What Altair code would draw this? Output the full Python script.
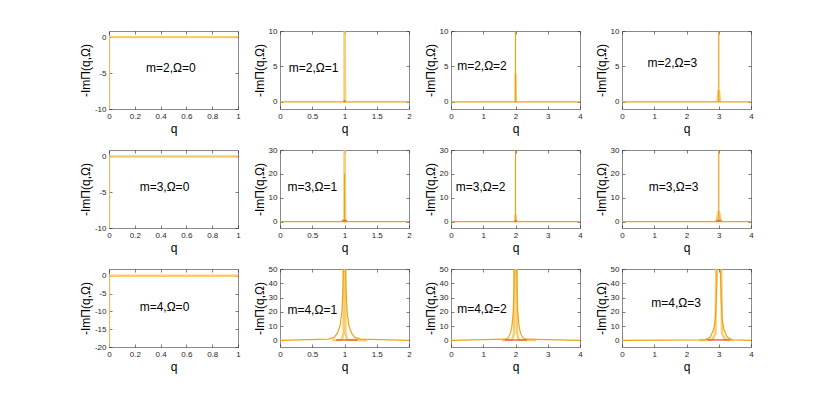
import altair as alt
import pandas as pd

# ---------------- data ----------------
M_VALUES = [2, 3, 4]
OMEGAS = [0, 1, 2, 3]
Q_MAX = {0: 1, 1: 2, 2: 4, 3: 4}
X_TICKS = {0: [0, 0.2, 0.4, 0.6, 0.8, 1], 1: [0, 0.5, 1, 1.5, 2],
           2: [0, 1, 2, 3, 4], 3: [0, 1, 2, 3, 4]}

# y ranges (static) and tick values
Y_DOMAIN = {
    (2, 0): [-10, 0.85], (2, 1): [-1.0, 10], (2, 2): [-1.0, 10], (2, 3): [-1.0, 10],
    (3, 0): [-10, 0.9], (3, 1): [-2.7, 30], (3, 2): [-2.7, 30], (3, 3): [-2.7, 30],
    (4, 0): [-20, 1.9], (4, 1): [-4.7, 50], (4, 2): [-4.7, 50], (4, 3): [-4.7, 50],
}
Y_TICKS = {
    (2, 0): [-10, -5, 0], (2, 1): [0, 5, 10], (2, 2): [0, 5, 10], (2, 3): [0, 5, 10],
    (3, 0): [-10, -5, 0], (3, 1): [0, 10, 20, 30], (3, 2): [0, 10, 20, 30], (3, 3): [0, 10, 20, 30],
    (4, 0): [-20, -15, -10, -5, 0], (4, 1): [0, 10, 20, 30, 40, 50],
    (4, 2): [0, 10, 20, 30, 40, 50], (4, 3): [0, 10, 20, 30, 40, 50],
}

# series: light (broad pale curve), dark (thin orange), red (short segment)
LIGHT = {
    (2, 0): ([0, 0, 1], [-10, 0, 0]),
    (3, 0): ([0, 0, 1], [-10, 0, 0]),
    (4, 0): ([0, 0, 1], [-20, 0, 0]),
    (2, 1): ([0.99, 1.0, 1.0, 1.01], [0, 0, 12, 0]),
    (2, 2): ([1.99, 2.0, 2.0, 2.01], [0, 0, 4, 0]),
    (2, 3): ([2.96, 2.99, 3.01, 3.04], [0, 1.5, 1.5, 0]),
    (3, 1): ([0.99, 1.0, 1.0, 1.01], [0, 0, 35, 0]),
    (3, 2): ([1.98, 2.0, 2.0, 2.02], [0, 0, 3, 0]),
    (3, 3): ([2.93, 2.99, 3.01, 3.07], [0, 4, 4, 0]),
    (4, 1): ([0.81, 0.96, 0.985, 0.994, 1.006, 1.015, 1.04, 1.35],
             [0, 0.5, 5, 80, 80, 5, 0.5, 0]),
    (4, 2): ([1.57, 1.9, 1.955, 1.972, 2.028, 2.045, 2.1, 2.64],
             [0, 0.5, 5, 80, 80, 5, 0.5, 0]),
    (4, 3): ([2.4, 2.8, 2.9, 2.935, 3.065, 3.1, 3.2, 3.45],
             [0, 0.5, 5, 80, 80, 5, 0.5, 0]),
}
DARK = {
    (2, 1): ([0, 2], [0, 0]),
    (2, 2): ([0, 2, 2, 2, 4], [0, 0, 12, 0, 0]),
    (2, 3): ([0, 3, 3, 3, 4], [0, 0, 12, 0, 0]),
    (3, 1): ([0, 1, 1, 1, 2], [0, 0, 20, 0, 0]),
    (3, 2): ([0, 2, 2, 2, 4], [0, 0, 35, 0, 0]),
    (3, 3): ([0, 3, 3, 3, 4], [0, 0, 35, 0, 0]),
    (4, 1): ([0, 0.75, 0.84, 0.89, 0.93, 0.96, 0.975, 0.988, 1.012, 1.025, 1.04, 1.07, 1.11, 1.16, 1.25, 2],
             [0, 0.8, 2, 5, 10, 20, 35, 60, 60, 35, 20, 10, 5, 2, 0.8, 0]),
    (4, 2): ([0, 1.7, 1.78, 1.845, 1.89, 1.93, 1.95, 1.97, 2.03, 2.05, 2.07, 2.11, 2.155, 2.22, 2.3, 4],
             [0, 0.8, 2, 5, 10, 20, 35, 60, 60, 35, 20, 10, 5, 2, 0.8, 0]),
    (4, 3): ([0, 2.58, 2.74, 2.84, 2.89, 2.92, 2.945, 2.96, 3.04, 3.055, 3.08, 3.11, 3.16, 3.26, 3.42, 4],
             [0, 0.3, 2.3, 7.5, 14, 27, 45, 60, 60, 45, 27, 14, 7.5, 2.3, 0.3, 0]),
}
RED = {
    (2, 1): ([0.985, 1.015], [0.15, 0.15]),
    (3, 1): ([0.96, 1.04], [0.4, 0.4]),
    (3, 2): ([1.96, 2.04], [0.3, 0.3]),
    (3, 3): ([2.92, 3.08], [0.4, 0.4]),
    (4, 1): ([0.87, 1.2], [0.2, 0.2]),
    (4, 2): ([1.67, 2.35], [0.2, 0.2]),
    (4, 3): ([2.65, 3.35], [0.3, 0.3]),
}
# label placement as fraction of plot (x from left, y from top)
LABEL_POS = {
    (2, 0): (0.48, 0.47), (2, 1): (0.26, 0.47), (2, 2): (0.24, 0.45), (2, 3): (0.39, 0.41),
    (3, 0): (0.43, 0.48), (3, 1): (0.25, 0.48), (3, 2): (0.23, 0.47), (3, 3): (0.40, 0.48),
    (4, 0): (0.43, 0.49), (4, 1): (0.25, 0.52), (4, 2): (0.24, 0.51), (4, 3): (0.42, 0.44),
}

# ---------------- style ----------------
W, H = 129, 78
FONT = "Liberation Sans"
AX = "#262626"
STYLE = {
    "light": dict(color="#F6C45A", strokeWidth=2.4, opacity=0.85),
    "dark": dict(color="#EDA317", strokeWidth=1.2, opacity=1.0),
    "red": dict(color="#E0582A", strokeWidth=1.6, opacity=0.8),
}


def series_df(d, key):
    if key not in d:
        return pd.DataFrame({"q": [], "v": [], "i": []})
    qs, vs = d[key]
    return pd.DataFrame({"q": qs, "v": vs, "i": list(range(len(qs)))})


def panel(m, om):
    key = (m, om)
    qmax = Q_MAX[om]
    ydom = Y_DOMAIN[key]
    xsc = alt.Scale(domain=[0, qmax], nice=False, zero=False)
    ysc = alt.Scale(domain=ydom, nice=False, zero=False)
    ax_common = dict(domain=False, grid=False, tickSize=3, offset=-3, tickColor=AX, tickWidth=0.6,
                     labelFont=FONT, labelFontSize=8, labelColor=AX, labelPadding=3,
                     labelExpr="'' + datum.value", titleFont=FONT, titleFontSize=12,
                     titleFontWeight="normal", titleColor="#000000")
    xaxis = alt.Axis(values=X_TICKS[om], title="q", titlePadding=3, labelFlush=False, **ax_common)
    yaxis = alt.Axis(values=Y_TICKS[key], title="-ImΠ(q,Ω)", titlePadding=2, **ax_common)
    layers = []
    first = True
    for name, d in (("light", LIGHT), ("dark", DARK), ("red", RED)):
        df = series_df(d, key)
        if len(df) == 0:
            continue
        st = STYLE[name]
        layers.append(
            alt.Chart(df).mark_line(clip=True, color=st["color"], strokeWidth=st["strokeWidth"],
                                    opacity=st["opacity"], strokeJoin="miter").encode(
                x=alt.X("q:Q", scale=xsc, axis=xaxis if first else None),
                y=alt.Y("v:Q", scale=ysc, axis=yaxis if first else None),
                order="i:Q",
            )
        )
        first = False
    fx, fy = LABEL_POS[key]
    lab = pd.DataFrame({"q": [fx * qmax], "v": [ydom[1] - fy * (ydom[1] - ydom[0])],
                        "t": [f"m={m},Ω={om}"]})
    top_ax = alt.Axis(values=X_TICKS[om], orient="top", labels=False, title=None, domain=False,
                      grid=False, tickSize=3, offset=-3, tickColor=AX, tickWidth=0.6)
    right_ax = alt.Axis(values=Y_TICKS[key], orient="right", labels=False, title=None, domain=False,
                        grid=False, tickSize=3, offset=-3, tickColor=AX, tickWidth=0.6)
    layers.append(
        alt.Chart(lab).mark_text(font=FONT, fontSize=12, color="black", align="center",
                                 baseline="middle").encode(
            x=alt.X("q:Q", scale=xsc, axis=top_ax),
            y=alt.Y("v:Q", scale=ysc, axis=right_ax),
            text="t:N",
        )
    )
    return alt.layer(*layers).resolve_axis(x="independent", y="independent").properties(
        width=W, height=H)


panels = [panel(m, om) for m in M_VALUES for om in OMEGAS]
chart = alt.concat(*panels, columns=4, spacing=alt.RowColnumber(row=41, column=42),
                   bounds="flush").properties(
    padding={"left": 70, "top": 18, "right": 5, "bottom": 5},
    background="white",
).configure_view(stroke="#8a8a8a", strokeWidth=1).configure_axis(titleColor="#000000")

chart.save("out.html", embed_options={"renderer": "svg", "actions": False})
